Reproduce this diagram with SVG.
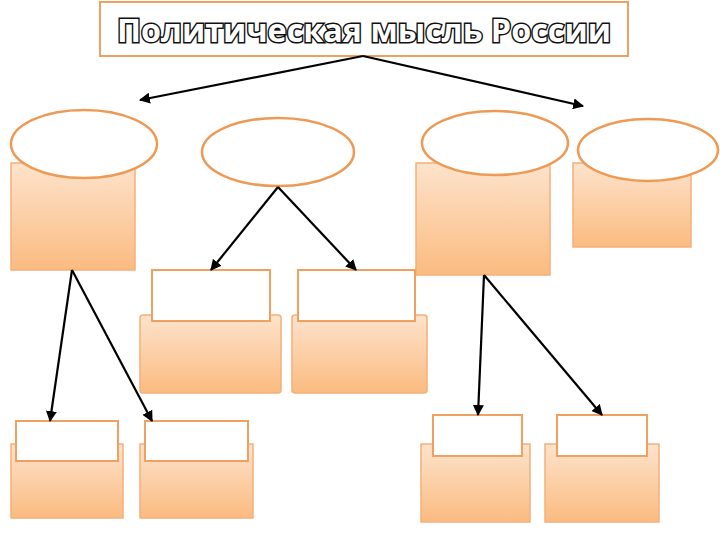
<svg xmlns="http://www.w3.org/2000/svg" width="720" height="540" viewBox="0 0 720 540">
<defs>
<linearGradient id="g" x1="0" y1="0" x2="0" y2="1"><stop offset="0" stop-color="#fde3cc"/><stop offset="1" stop-color="#fbbb80"/></linearGradient>
<marker id="a" viewBox="0 0 10 10" refX="9" refY="5" markerWidth="5" markerHeight="5" orient="auto"><path d="M0,0L10,5L0,10z" fill="#000"/></marker>
</defs>
<style>
.b{fill:url(#g);stroke:#f3b07a;stroke-width:1.5}
.w{fill:#fff;stroke:#f0a060;stroke-width:2}
.e{fill:#fff;stroke:#ee9a55;stroke-width:2.5}
.c{stroke:#000;stroke-width:2.2;fill:none;marker-end:url(#a)}
.t{font-family:"Open Sans",sans-serif;font-weight:bold;font-size:33px;fill:#fff;stroke:#111;stroke-width:3;paint-order:stroke}
</style>
<rect width="720" height="540" fill="#fff"/>
<g id="title"><rect x="100" y="2" width="528" height="54" fill="#fff" stroke="#f0a060" stroke-width="2"/><text class="t" x="364" y="42" text-anchor="middle" textLength="494" lengthAdjust="spacingAndGlyphs">Политическая мысль России</text></g>
<g id="n1"><rect class="b" x="11" y="163" width="124" height="107"/><ellipse class="e" cx="84" cy="144" rx="73" ry="34"/></g>
<g id="n2"><ellipse class="e" cx="278" cy="152" rx="76" ry="34"/></g>
<g id="n3"><rect class="b" x="416" y="163" width="134" height="112"/><ellipse class="e" cx="495" cy="143" rx="73" ry="32"/></g>
<g id="n4"><rect class="b" x="573" y="163" width="118" height="84"/><ellipse class="e" cx="648" cy="150" rx="70" ry="31"/></g>
<g id="m1"><rect class="b" x="140" y="315" width="141" height="78" rx="3"/><rect class="w" x="152" y="270" width="118" height="51"/></g>
<g id="m2"><rect class="b" x="292" y="315" width="135" height="78" rx="3"/><rect class="w" x="298" y="270" width="117" height="51"/></g>
<g id="l1"><rect class="b" x="11" y="444" width="112" height="74"/><rect class="w" x="16" y="421" width="102" height="40"/></g>
<g id="l2"><rect class="b" x="140" y="444" width="113" height="74"/><rect class="w" x="145" y="421" width="103" height="40"/></g>
<g id="r1"><rect class="b" x="421" y="444" width="109" height="78"/><rect class="w" x="433" y="415" width="89" height="41"/></g>
<g id="r2"><rect class="b" x="545" y="444" width="114" height="78"/><rect class="w" x="557" y="415" width="90" height="41"/></g>
<g id="connectors">
<line class="c" x1="363" y1="56" x2="140" y2="100"/>
<line class="c" x1="363" y1="56" x2="583" y2="106"/>
<line class="c" x1="278" y1="187" x2="211" y2="270"/>
<line class="c" x1="278" y1="187" x2="356" y2="270"/>
<line class="c" x1="72" y1="270" x2="50" y2="421"/>
<line class="c" x1="72" y1="270" x2="152" y2="421"/>
<line class="c" x1="484" y1="275" x2="478" y2="415"/>
<line class="c" x1="484" y1="275" x2="602" y2="415"/>
</g>
</svg>
